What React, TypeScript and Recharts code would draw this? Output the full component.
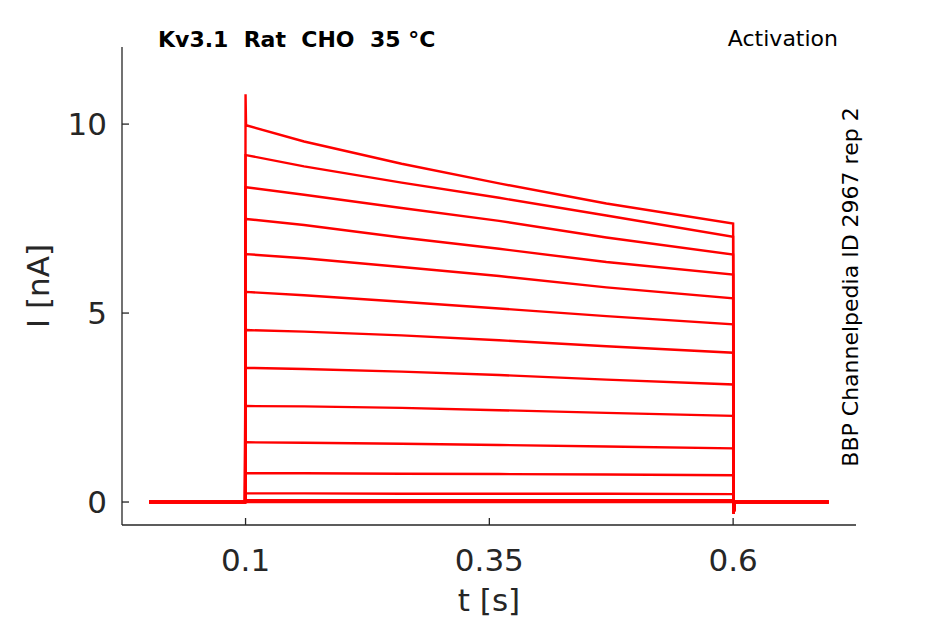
import React from 'react';
import { LineChart, Line, XAxis, YAxis } from 'recharts';

// sample times during the voltage step (s)
const stepTimes = [0.1005, 0.16, 0.26, 0.36, 0.47, 0.6];
// current (nA) of each sweep at the sample times
const sweep1 = [9.97, 9.54, 8.95, 8.43, 7.9, 7.37];
const sweep2 = [9.18, 8.88, 8.45, 8.05, 7.58, 7.02];
const sweep3 = [8.33, 8.13, 7.78, 7.44, 7.0, 6.55];
const sweep4 = [7.49, 7.33, 7.0, 6.7, 6.35, 6.02];
const sweep5 = [6.56, 6.45, 6.22, 5.98, 5.68, 5.39];
const sweep6 = [5.56, 5.47, 5.3, 5.12, 4.92, 4.7];
const sweep7 = [4.55, 4.51, 4.41, 4.28, 4.12, 3.95];
const sweep8 = [3.55, 3.52, 3.45, 3.36, 3.24, 3.11];
const sweep9 = [2.54, 2.53, 2.49, 2.43, 2.36, 2.28];
const sweep10 = [1.58, 1.57, 1.54, 1.51, 1.47, 1.42];
const sweep11 = [0.76, 0.76, 0.75, 0.74, 0.73, 0.71];
const sweep12 = [0.23, 0.23, 0.22, 0.22, 0.22, 0.21];
const sweep13 = [0.05, 0.05, 0.05, 0.05, 0.05, 0.05];
const sweep14 = [0, 0, 0, 0, 0, 0];
const sweeps = [sweep1, sweep2, sweep3, sweep4, sweep5, sweep6, sweep7, sweep8, sweep9, sweep10, sweep11, sweep12, sweep13, sweep14];

const recordStart = 0.001;
const recordEnd = 0.698;
const stepOn = 0.1;
const stepOff = 0.6;
const onsetPeak = 10.79;
const tailDip = -0.3;

const xTicks = [0.1, 0.35, 0.6];
const yTicks = [0, 5, 10];
const xDomain = [-0.0267, 0.726];
const yDomain = [-0.608, 12.04];

const titleText = 'Kv3.1  Rat  CHO  35 °C';
const protocolText = 'Activation';
const sourceText = 'BBP Channelpedia ID 2967 rep 2';

const buildSweep = (vals: number[], idx: number) => {
  const pts: { t: number; v: number }[] = [];
  pts.push({ t: recordStart, v: 0 });
  pts.push({ t: stepOn - 0.0005, v: 0 });
  pts.push({ t: stepOn, v: idx === 0 ? onsetPeak : vals[0] });
  stepTimes.forEach((t, i) => pts.push({ t, v: vals[i] }));
  pts.push({ t: stepOff + 0.0005, v: tailDip });
  pts.push({ t: stepOff + 0.002, v: 0 });
  pts.push({ t: recordEnd, v: 0 });
  return pts;
};

const sweepData = sweeps.map((s, i) => buildSweep(s, i));

const ink = '#262626';
const font = 'DejaVu Sans';

export default function App() {
  return (
    <div style={{ position: 'absolute', left: 0, top: 0, width: 945, height: 624, background: '#fff' }}>
      <LineChart width={945} height={624} margin={{ top: 47, right: 89, bottom: 0, left: 0 }}>
        <XAxis
          type="number"
          dataKey="t"
          domain={xDomain}
          ticks={xTicks}
          allowDataOverflow
          height={99}
          tickSize={-7}
          tickMargin={31}
          axisLine={{ stroke: ink, strokeWidth: 1.3 }}
          tickLine={{ stroke: ink, strokeWidth: 1.3 }}
          tick={{ fill: ink, fontSize: 31, fontFamily: font }}
          label={{ value: 't [s]', position: 'insideBottom', offset: 13, fill: ink, fontSize: 31, fontFamily: font }}
        />
        <YAxis
          type="number"
          domain={yDomain}
          ticks={yTicks}
          allowDataOverflow
          width={122}
          tickSize={-7}
          tickMargin={22}
          axisLine={{ stroke: ink, strokeWidth: 1.3 }}
          tickLine={{ stroke: ink, strokeWidth: 1.3 }}
          tick={{ fill: ink, fontSize: 31, fontFamily: font }}
          label={{ value: 'I [nA]', angle: -90, position: 'insideLeft', offset: 38, fill: ink, fontSize: 31, fontFamily: font, style: { textAnchor: 'middle' } }}
        />
        {sweepData.map((d, i) => (
          <Line
            key={i}
            data={d}
            dataKey="v"
            type="linear"
            stroke="#ff0000"
            strokeWidth={2.4}
            dot={false}
            activeDot={false}
            isAnimationActive={false}
          />
        ))}
      </LineChart>
      <svg width={945} height={624} style={{ position: 'absolute', left: 0, top: 0, pointerEvents: 'none' }}>
        <text x={158} y={47} fontFamily={font} fontSize={22} fontWeight="bold" fill="#000" style={{ whiteSpace: 'pre' }}>
          {titleText}
        </text>
        <text x={838} y={46} fontFamily={font} fontSize={22} fill="#000" textAnchor="end">
          {protocolText}
        </text>
        <text x={858} y={287} fontFamily={font} fontSize={22} fill="#000" textAnchor="middle" transform="rotate(-90 858 287)">
          {sourceText}
        </text>
      </svg>
    </div>
  );
}
